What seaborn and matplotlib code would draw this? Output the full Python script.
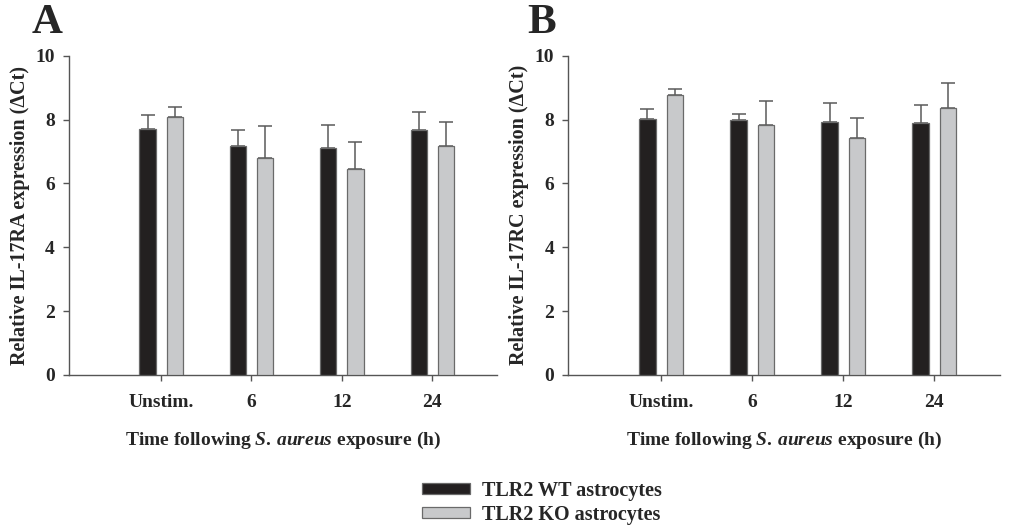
import matplotlib
matplotlib.use("Agg")
import matplotlib.pyplot as plt
import numpy as np
import pandas as pd
import seaborn as sns

# data
times = ["Unstim.", "6", "12", "24"]
groups = ["TLR2 WT astrocytes", "TLR2 KO astrocytes"]

ra_wt = [7.71, 7.17, 7.12, 7.66]
ra_wt_err = [0.42, 0.51, 0.70, 0.57]
ra_ko = [8.07, 6.79, 6.46, 7.18]
ra_ko_err = [0.33, 1.01, 0.85, 0.74]

rc_wt = [8.03, 7.98, 7.91, 7.89]
rc_wt_err = [0.29, 0.21, 0.61, 0.57]
rc_ko = [8.76, 7.83, 7.42, 8.37]
rc_ko_err = [0.21, 0.74, 0.63, 0.79]

colors = ["#231f20", "#c8c9cb"]
edge = "#6a6a6a"

sns.set_theme(style="ticks")
plt.rcParams["font.family"] = ["Liberation Serif", "DejaVu Serif"]
plt.rcParams["font.weight"] = "bold"
plt.rcParams["axes.labelweight"] = "bold"
plt.rcParams["mathtext.fontset"] = "custom"
plt.rcParams["mathtext.rm"] = "Liberation Serif:bold"
plt.rcParams["mathtext.it"] = "Liberation Serif:italic:bold"
plt.rcParams["mathtext.bf"] = "Liberation Serif:bold"


def panel(ax, wt, wt_err, ko, ko_err, ylabel, letter, lx):
    df = pd.DataFrame({
        "time": times * 2,
        "group": [groups[0]] * 4 + [groups[1]] * 4,
        "value": wt + ko,
        "err": wt_err + ko_err,
    })
    sns.barplot(data=df, x="time", y="value", hue="group", order=times,
                hue_order=groups, palette=colors, errorbar=None,
                width=0.6, gap=0.4, edgecolor=edge, linewidth=0.9,
                legend=False, ax=ax, zorder=3)
    bars = [p for p in ax.patches]
    for p, v, e in zip(bars, wt + ko, wt_err + ko_err):
        xc = p.get_x() + p.get_width() / 2
        ax.errorbar(xc, v, yerr=[[0], [e]], fmt="none", ecolor="#5a5a5a",
                    elinewidth=1.1, capsize=5, capthick=1.1, zorder=2)
    ax.set_ylim(0, 10)
    ax.set_xlim(-1.02, 3.72)
    ax.set_yticks([0, 2, 4, 6, 8, 10])
    ax.set_ylabel(ylabel, fontsize=14.5, labelpad=4)
    ax.set_xlabel(r"Time following $\mathit{S.\,aureus}$ exposure (h)",
                  fontsize=14, labelpad=13)
    for s in ["top", "right"]:
        ax.spines[s].set_visible(False)
    for s in ["left", "bottom"]:
        ax.spines[s].set_color("#555555")
        ax.spines[s].set_linewidth(1.0)
    ax.tick_params(axis="y", direction="out", length=4, width=1,
                   color="#555555", labelsize=14, pad=6)
    ax.tick_params(axis="x", direction="out", length=4, width=1,
                   color="#555555", labelsize=14, pad=10)
    for lab in ax.get_xticklabels() + ax.get_yticklabels():
        lab.set_fontweight("bold")
    ax.text(lx, 1.07, letter, transform=ax.transAxes, fontsize=31,
            fontweight="bold", va="baseline", ha="left")


fig = plt.figure(figsize=(10.13, 5.31), dpi=100)
ax1 = fig.add_axes([0.068, 0.294, 0.423, 0.601])
ax2 = fig.add_axes([0.561, 0.294, 0.426, 0.601])

panel(ax1, ra_wt, ra_wt_err, ra_ko, ra_ko_err,
      "Relative IL-17RA expression (\u0394Ct)", "A", -0.088)
panel(ax2, rc_wt, rc_wt_err, rc_ko, rc_ko_err,
      "Relative IL-17RC expression (\u0394Ct)", "B", -0.095)

handles = [plt.Rectangle((0, 0), 1, 1, facecolor=c, edgecolor=edge, linewidth=0.9)
           for c in colors]
fig.legend(handles, groups, loc="lower center", bbox_to_anchor=(0.535, -0.022),
           ncol=1, frameon=False, handlelength=2.4, handleheight=0.45,
           handletextpad=0.6, labelspacing=0.2,
           prop={"family": "Liberation Serif", "weight": "bold", "size": 14.5})

fig.savefig("out.png", dpi=100)
